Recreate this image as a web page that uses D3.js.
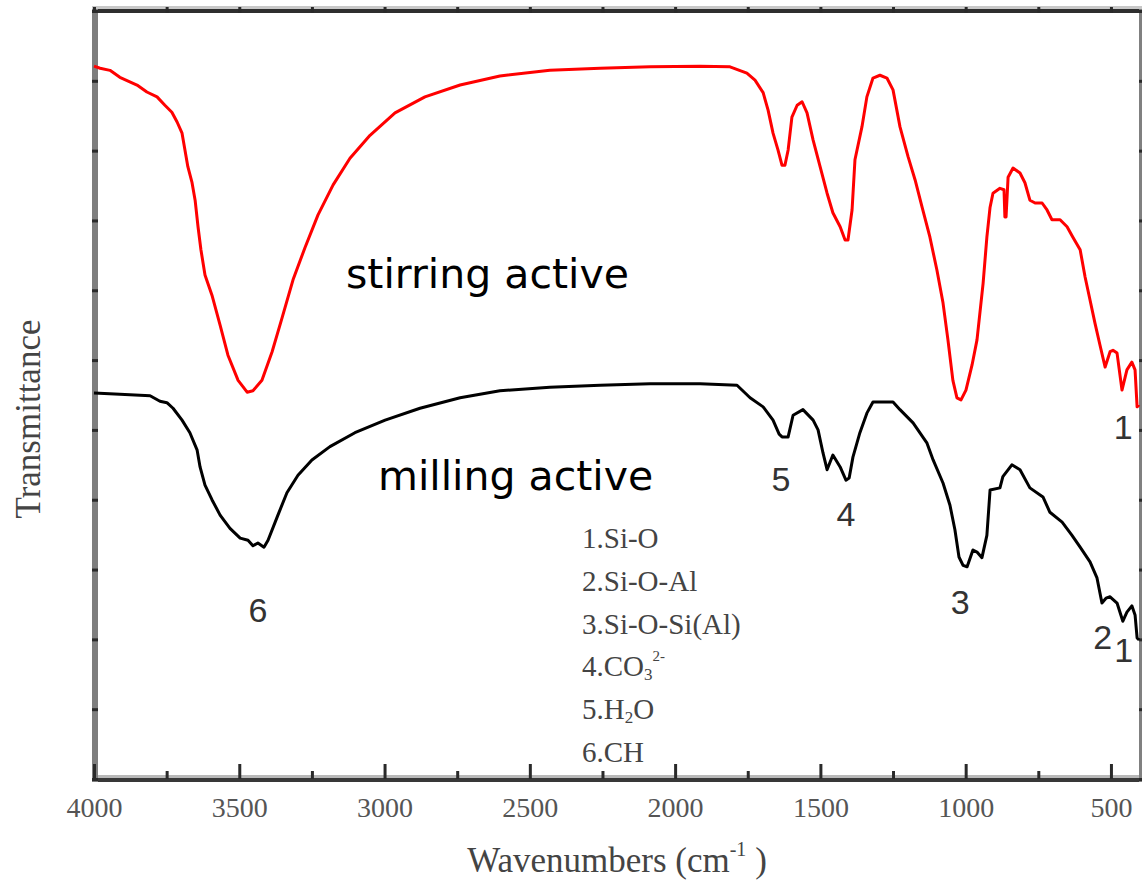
<!DOCTYPE html>
<html>
<head>
<meta charset="utf-8">
<script src="https://cdn.jsdelivr.net/npm/d3@7"></script>
<style>
  html, body { margin: 0; padding: 0; background: #fff; }
  svg { display: block; }
</style>
</head>
<body>
<svg id="chart" width="1142" height="890"></svg>
<script>
// FTIR spectra of the two activated samples (offset, arbitrary transmittance units)
const stirringWavenumber = [4000,3979,3945,3911,3852,3818,3783,3756,3732,3714,3697,3687,3677,3663,3652,3642,3632,3618,3594,3566,3539,3504,3473,3453,3422,3387,3353,3315,3274,3229,3177,3119,3050,2964,2861,2740,2603,2431,2258,2086,1914,1811,1753,1725,1697,1680,1663,1646,1632,1622,1611,1598,1580,1563,1546,1525,1501,1477,1457,1432,1415,1405,1391,1381,1357,1340,1319,1295,1271,1250,1226,1198,1174,1150,1123,1099,1078,1061,1044,1030,1016,999,978,961,940,927,916,906,882,868,865,861,854,837,813,796,779,761,737,720,703,675,651,631,606,589,572,555,538,520,503,493,479,462,445,428,417,410,403];
const stirringT = [102.1,101.8,101.5,100.5,99.4,98.4,97.7,96.5,95.5,94.1,92.5,90.1,87.7,85.5,82.9,79.1,75.8,72.2,69.3,65.0,60.7,57.1,55.4,55.6,57.1,61.2,66.0,71.5,76.1,80.8,85.1,88.9,92.2,95.4,97.7,99.4,100.7,101.5,101.8,102.0,102.1,102.0,101.1,100.1,98.3,95.8,92.5,90.1,87.9,87.9,90.1,94.8,96.5,97.0,95.4,91.5,87.7,83.9,81.1,79.1,77.2,77.2,81.5,88.7,93.4,97.7,100.4,100.8,100.4,98.7,93.4,89.1,85.8,81.9,77.6,72.9,68.2,62.9,57.1,54.6,54.3,55.7,59.3,62.9,71.0,77.6,81.9,83.9,84.6,84.4,80.5,80.5,86.2,87.5,86.8,85.4,82.9,82.5,82.5,81.5,80.1,80.1,79.1,77.6,75.8,71.9,68.6,65.3,62.2,59.0,61.2,61.4,61.0,55.7,58.6,59.7,58.6,53.3,53.6];

const millingWavenumber = [4000,3911,3807,3773,3749,3728,3697,3670,3645,3635,3618,3594,3566,3532,3497,3470,3453,3436,3415,3401,3367,3336,3298,3250,3188,3102,2998,2878,2740,2603,2431,2258,2086,1914,1787,1742,1697,1663,1642,1632,1611,1594,1560,1525,1508,1491,1477,1457,1432,1412,1401,1388,1364,1340,1319,1250,1226,1181,1133,1112,1078,1054,1037,1023,1009,995,975,961,944,927,916,882,872,841,813,779,734,710,668,634,606,572,548,531,517,503,479,459,445,428,417,410,403];
const millingT = [55.3,55.1,54.9,54.1,53.9,53.1,51.4,49.6,47.1,44.7,42.1,40.0,37.8,35.9,34.5,34.2,33.4,33.8,33.2,34.2,37.8,41.0,43.5,45.7,47.6,49.6,51.4,53.1,54.6,55.6,56.1,56.4,56.6,56.6,56.4,54.6,53.3,51.4,49.4,49.0,49.0,52.1,52.9,51.4,50.0,46.7,44.3,46.4,44.7,42.8,43.1,46.1,49.6,52.4,54.0,54.0,52.9,51.0,48.1,45.7,42.4,39.2,35.7,31.8,30.6,30.4,32.8,32.5,31.7,34.9,41.4,41.7,43.3,45.0,44.3,41.7,40.4,38.2,36.8,34.9,33.2,31.1,28.8,25.2,25.9,26.1,25.2,22.6,23.9,24.8,23.5,20.2,19.9];

// Axis ticks
const majorTicks = [4000,3500,3000,2500,2000,1500,1000,500];
const minorTicks = [3750,3250,2750,2250,1750,1250,750];
const yTicks = [0,10,20,30,40,50,60,70,80,90,100,110];

// Band assignments
const peakLabels = [
  {text: "6", wn: 3436, t: 22.5},
  {text: "5", wn: 1636, t: 41.2},
  {text: "4", wn: 1412, t: 36.3},
  {text: "3", wn: 1019, t: 23.6},
  {text: "2", wn: 528,  t: 18.6},
  {text: "1", wn: 456,  t: 16.8},
  {text: "1", wn: 458,  t: 48.7}
];
const legendLines = ["1.Si-O", "2.Si-O-Al", "3.Si-O-Si(Al)", "4.CO3", "5.H2O", "6.CH"];

const svg = d3.select("#chart");
const plotLeft = 94, plotRight = 1140, plotTop = 11, plotBottom = 779;

const x = d3.scaleLinear().domain([4000, 400]).range([plotLeft, plotRight]);
const y = d3.scaleLinear().domain([0, 110]).range([plotBottom, plotTop]);

// Frame
const frame = svg.append("g");
frame.append("rect").attr("x", 92).attr("y", 6).attr("width", 1050).attr("height", 3).attr("fill", "#c8c8c8");
frame.append("rect").attr("x", 92).attr("y", 9).attr("width", 1050).attr("height", 4).attr("fill", "#2e2e2e");
frame.append("rect").attr("x", 92).attr("y", 775).attr("width", 1050).attr("height", 3).attr("fill", "#b8b8b8");
frame.append("rect").attr("x", 92).attr("y", 778).attr("width", 1050).attr("height", 4).attr("fill", "#383838");
frame.append("rect").attr("x", 92).attr("y", 9).attr("width", 6).attr("height", 773).attr("fill", "#7e7e7e");
frame.append("rect").attr("x", 1139).attr("y", 9).attr("width", 3).attr("height", 773).attr("fill", "#808080");

// Bottom axis: major ticks with labels, minor ticks without
const xMajor = svg.append("g").attr("transform", `translate(0,${plotBottom})`)
  .call(d3.axisBottom(x).tickValues(majorTicks).tickSizeInner(-15).tickSizeOuter(0).tickPadding(18).tickFormat(d3.format("d")));
const xMinor = svg.append("g").attr("transform", `translate(0,${plotBottom})`)
  .call(d3.axisBottom(x).tickValues(minorTicks).tickSizeInner(-8).tickSizeOuter(0).tickFormat(""));
// Top axis
const xTop = svg.append("g").attr("transform", `translate(0,13)`)
  .call(d3.axisTop(x).tickValues(majorTicks.concat(minorTicks)).tickSizeInner(6).tickSizeOuter(0).tickFormat(""));
// Left / right axes
const yLeft = svg.append("g").attr("transform", `translate(92,0)`)
  .call(d3.axisLeft(y).tickValues(yTicks).tickSizeInner(-6).tickSizeOuter(0).tickFormat(""));
const yRight = svg.append("g").attr("transform", `translate(1142,0)`)
  .call(d3.axisRight(y).tickValues(yTicks).tickSizeInner(-3).tickSizeOuter(0).tickFormat(""));

[xMajor, xMinor, xTop, yLeft, yRight].forEach(g => {
  g.select(".domain").remove();
  g.selectAll(".tick line").attr("stroke", "#2a2a2a").attr("stroke-width", 3);
});
xMajor.selectAll(".tick text")
  .attr("font-family", "'Liberation Serif', 'Times New Roman', serif")
  .attr("font-size", 28).attr("fill", "#555").attr("dy", "0.7em");

// Spectra
const line = d3.line().x(d => x(d[0])).y(d => y(d[1]));
const stirring = stirringWavenumber.map((w, i) => [w, stirringT[i]]);
const milling = millingWavenumber.map((w, i) => [w, millingT[i]]);

svg.append("path").datum(stirring).attr("d", line)
  .attr("fill", "none").attr("stroke", "#ff0000").attr("stroke-width", 3).attr("stroke-linejoin", "round");
svg.append("path").datum(milling).attr("d", line)
  .attr("fill", "none").attr("stroke", "#000").attr("stroke-width", 3).attr("stroke-linejoin", "round");

// Sample names
svg.append("text").attr("x", 346).attr("y", 288).text("stirring active")
  .attr("font-family", "'DejaVu Sans', Verdana, sans-serif").attr("font-size", 41).attr("fill", "#000");
svg.append("text").attr("x", 378).attr("y", 490).text("milling active")
  .attr("font-family", "'DejaVu Sans', Verdana, sans-serif").attr("font-size", 41).attr("fill", "#000");

// Band numbers
svg.append("g").selectAll("text").data(peakLabels).join("text")
  .attr("x", d => x(d.wn)).attr("y", d => y(d.t))
  .attr("text-anchor", "middle")
  .attr("font-family", "'Liberation Sans', Arial, sans-serif")
  .attr("font-size", 34).attr("fill", "#333")
  .text(d => d.text);

// Band assignment list
const legend = svg.append("g")
  .attr("font-family", "'Liberation Serif', 'Times New Roman', serif")
  .attr("font-size", 29).attr("fill", "#444");
legendLines.forEach((s, i) => {
  const t = legend.append("text").attr("x", 582).attr("y", 548 + i * 42.8);
  if (s === "4.CO3") {
    t.append("tspan").text("4.CO");
    t.append("tspan").text("3").attr("font-size", 17).attr("dy", 4);
    t.append("tspan").text("2-").attr("font-size", 15).attr("dy", -19);
  } else if (s === "5.H2O") {
    t.append("tspan").text("5.H");
    t.append("tspan").text("2").attr("font-size", 17).attr("dy", 4);
    t.append("tspan").text("O").attr("dy", -4);
  } else {
    t.text(s);
  }
});

// Axis titles
const xt = svg.append("text").attr("x", 617).attr("y", 872).attr("text-anchor", "middle")
  .attr("font-family", "'Liberation Serif', 'Times New Roman', serif")
  .attr("font-size", 35).attr("fill", "#444");
xt.append("tspan").text("Wavenumbers (cm");
xt.append("tspan").text("-1").attr("font-size", 20).attr("dy", -16);
xt.append("tspan").text(" )").attr("dy", 16);

svg.append("text").attr("transform", "translate(40,419) rotate(-90)").attr("text-anchor", "middle")
  .attr("font-family", "'Liberation Serif', 'Times New Roman', serif")
  .attr("font-size", 35).attr("fill", "#444")
  .text("Transmittance");
</script>
</body>
</html>
